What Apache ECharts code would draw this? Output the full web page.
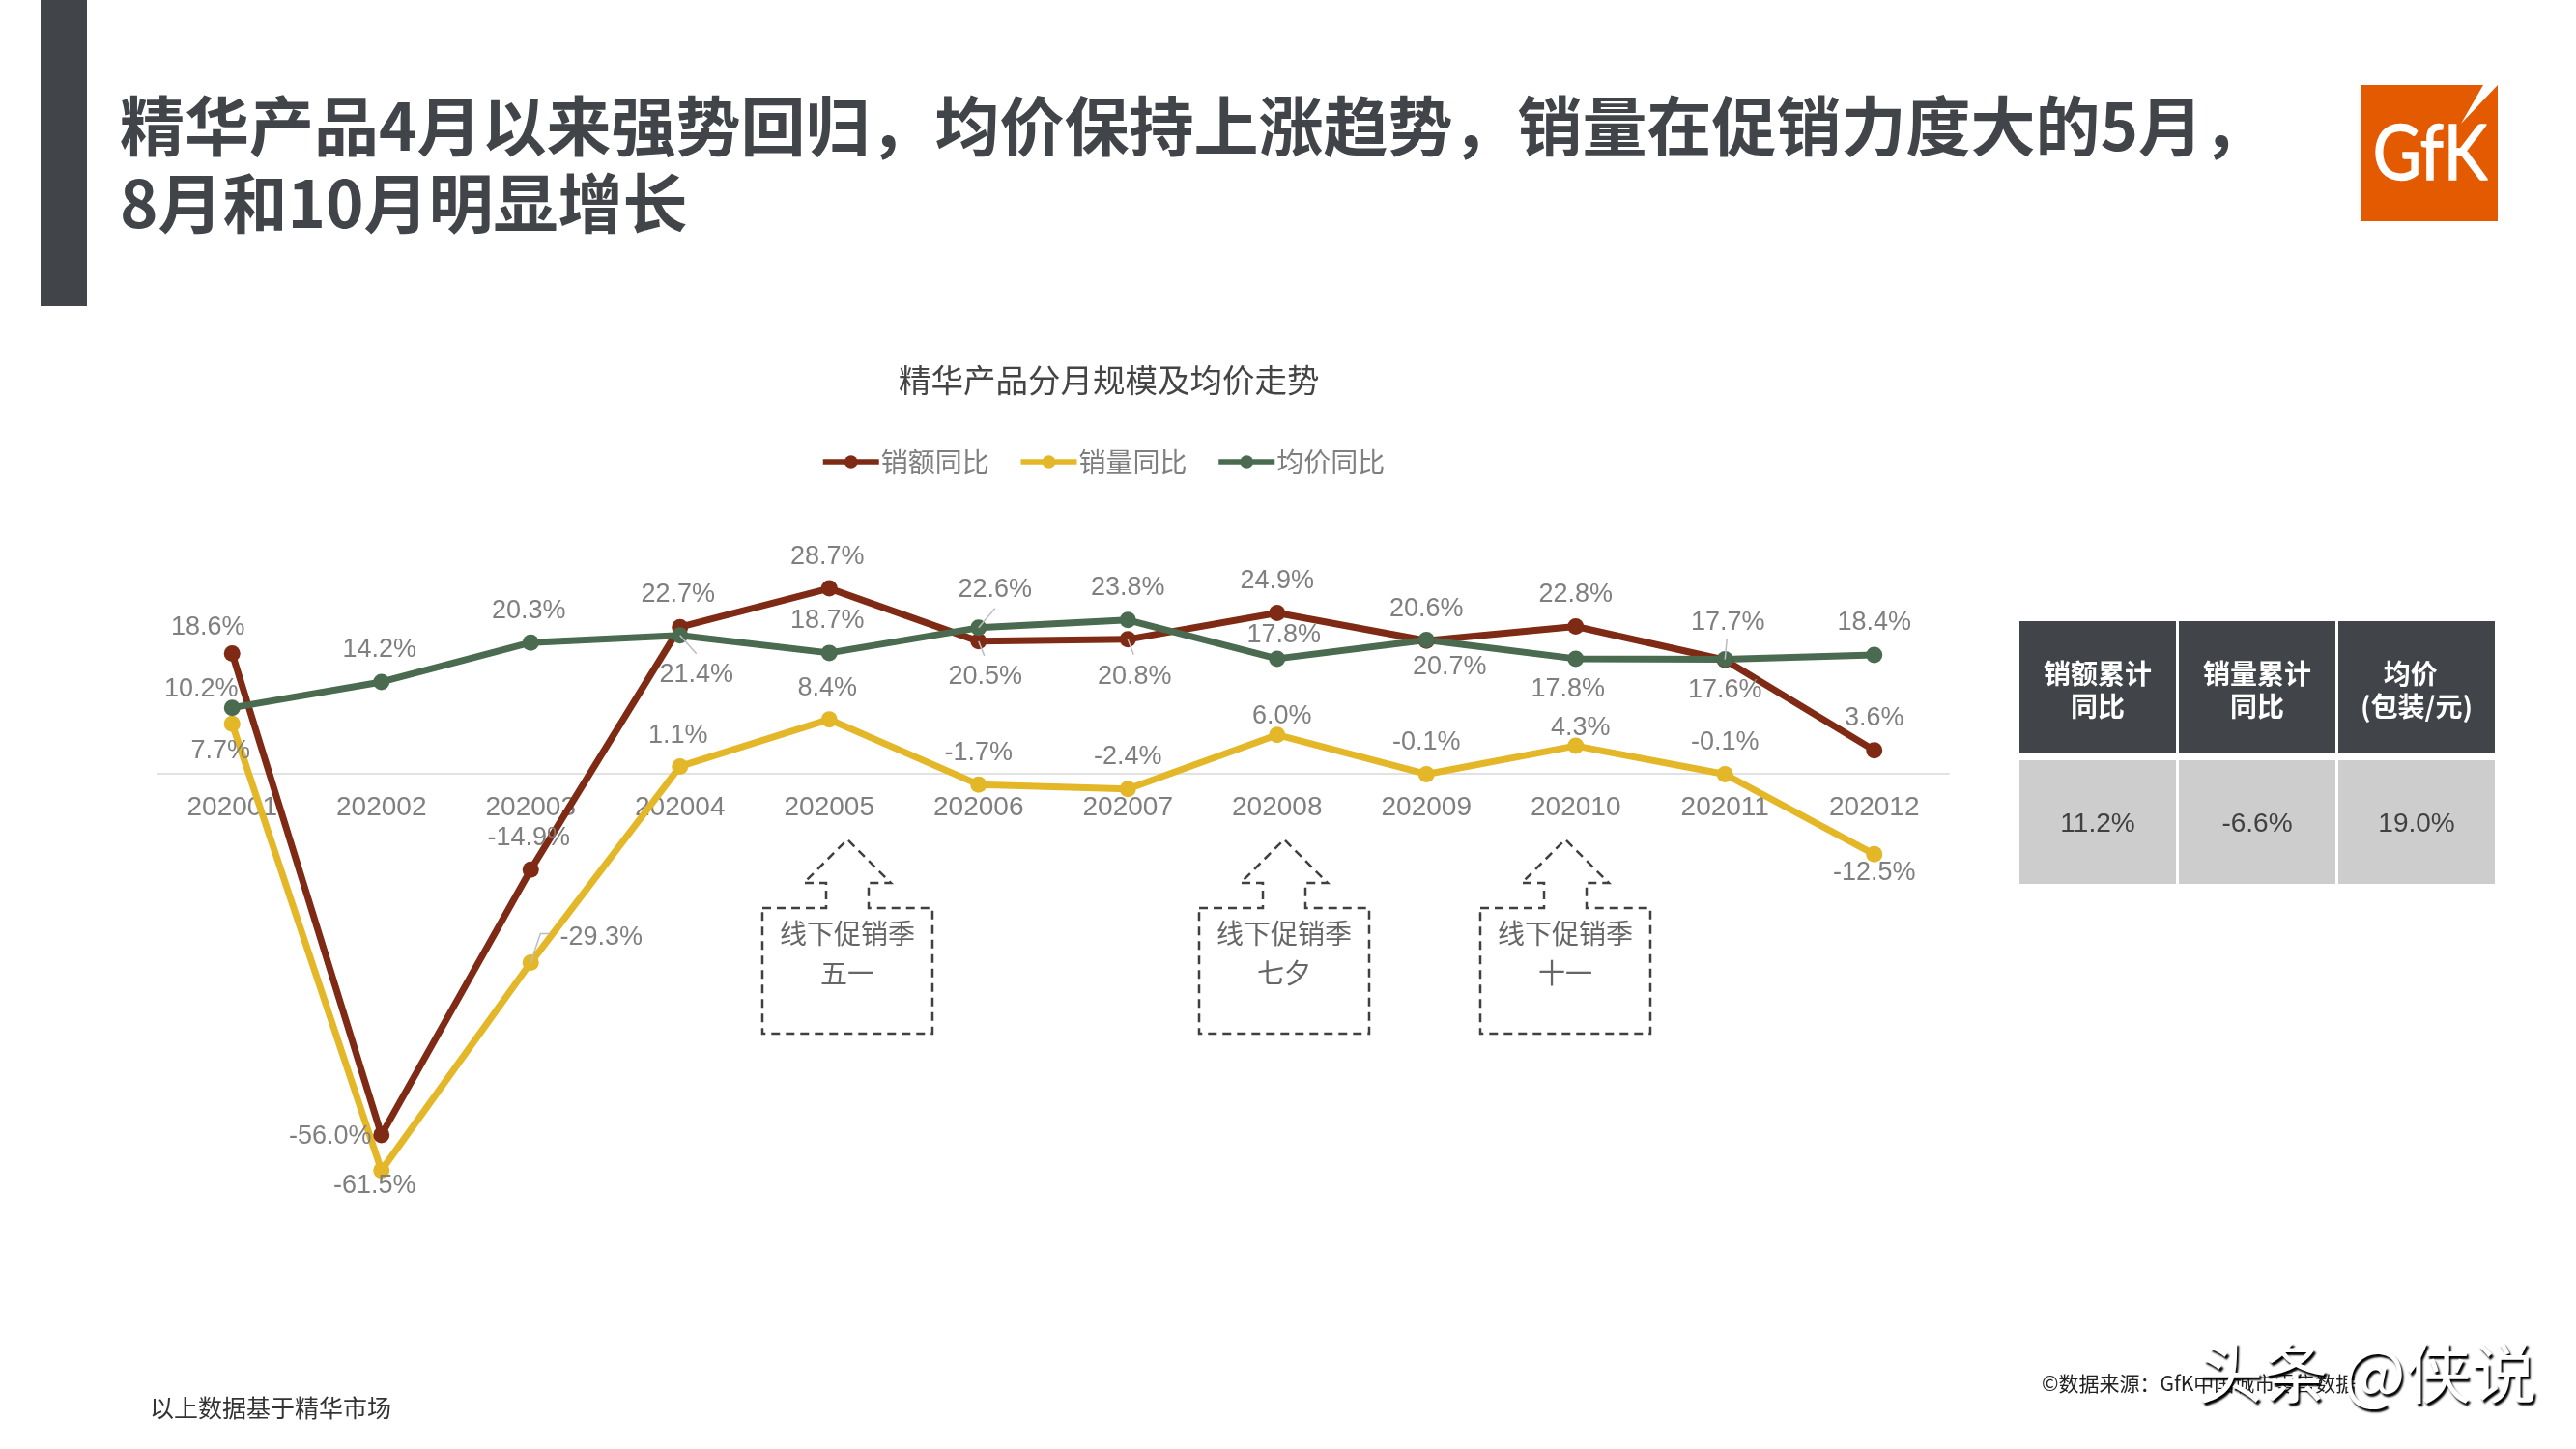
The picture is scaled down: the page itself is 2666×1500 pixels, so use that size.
<!DOCTYPE html>
<html>
<head>
<meta charset="utf-8">
<title>精华产品分月规模及均价走势</title>
<script src="https://cdn.jsdelivr.net/npm/echarts@6/dist/echarts.min.js"></script>
<style>
html, body { margin: 0; padding: 0; background: #fff; }
#main { width: 2666px; height: 1500px; }
</style>
</head>
<body>
<div id="main"></div>
<script>
//数据
var months = ['202001','202002','202003','202004','202005','202006','202007','202008','202009','202010','202011','202012'];
var salesYoy = [18.6,-56.0,-14.9,22.7,28.7,20.5,20.8,24.9,20.6,22.8,17.6,3.6];
var volumeYoy = [7.7,-61.5,-29.3,1.1,8.4,-1.7,-2.4,6.0,-0.1,4.3,-0.1,-12.5];
var priceYoy = [10.2,14.2,20.3,21.4,18.7,22.6,23.8,17.8,20.7,17.8,17.7,18.4];
var seriesNames = ['销额同比','销量同比','均价同比'];
var tableHead = ['销额累计\n同比','销量累计\n同比','均价  \n(包装/元)'];
var tableBody = ['11.2%','-6.6%','19.0%'];
var promoTexts = ['线下促销季\n五一','线下促销季\n七夕','线下促销季\n十一'];

//标签偏移，和原图手动摆放的位置对应
var salesOffset = [[-25,-27],[-53,2],[-2,-33],[-2,-34],[-2,-33],[7,37],[7,39],[0,-33],[0,-33],[0,-33],[0,31],[0,-33]];
var volumeOffset = [[-12,28],[-7,16],[73,-26],[-2,-32],[-2,-32],[0,-33],[0,-33],[5,-19],[0,-33],[5,-19],[0,-33],[0,19]];
var priceOffset = [[-32,-19],[-2,-33],[-2,-33],[17,41],[-2,-33],[17,-39],[0,-33],[7,-24],[24,28],[-8,32],[3,-38],[0,-33]];

//引导线：[系列序号, 月份序号, 折线各点相对数据点的偏移]
var leaders = [
	[2, 3, [[17,19]]],
	[2, 5, [[17,-20]]],
	[0, 5, [[6,15]]],
	[0, 6, [[6,16]]],
	[2, 10, [[2,-21]]],
	[1, 2, [[10,-30],[20,-30]]]
];
var seriesValues = [salesYoy, volumeYoy, priceYoy];

var FONT = '"Liberation Sans","Noto Sans CJK SC",sans-serif';
var CJK = '"Noto Sans CJK SC","Liberation Sans",sans-serif';
var DARK = '#414549';

function lineSeries(name, values, offsets, color) {
	return {
		name: name,
		type: 'line',
		data: values.map(function (v, i) {
			return { value: v, label: { offset: offsets[i] } };
		}),
		showSymbol: true,
		showAllSymbol: true,
		symbol: 'circle',
		symbolSize: 17,
		lineStyle: { color: color, width: 7 },
		itemStyle: { color: color },
		label: {
			show: true,
			position: 'inside',
			color: '#7f7f7f',
			fontSize: 27,
			fontFamily: FONT,
			formatter: function (p) { return p.value.toFixed(1) + '%'; }
		}
	};
}

var graphics = [];
//左上角色块
graphics.push({ type: 'rect', shape: { x: 42, y: 0, width: 48, height: 317 }, style: { fill: DARK } });
//logo
graphics.push({ type: 'rect', shape: { x: 2444, y: 88, width: 141, height: 141 }, style: { fill: '#E35A00' } });
graphics.push({ type: 'text', x: 2515, y: 160, scaleX: 0.86, style: { text: 'GfK', fill: '#fff', stroke: '#fff', lineWidth: 1.5, font: '80px Lato, sans-serif', textAlign: 'center', textVerticalAlign: 'middle' } });
graphics.push({ type: 'polygon', shape: { points: [[2570,88],[2585,88],[2547,128]] }, style: { fill: '#fff' } });

//表格
var colX = [2090,2255,2420];
tableHead.forEach(function (t, i) {
	graphics.push({ type: 'rect', shape: { x: colX[i], y: 643, width: 162, height: 137 }, style: { fill: DARK } });
	graphics.push({ type: 'text', x: colX[i] + 81, y: 714, style: { text: t, fill: '#fff', font: 'bold 28px ' + CJK, lineHeight: 34, textAlign: 'center', textVerticalAlign: 'middle' } });
});
tableBody.forEach(function (t, i) {
	graphics.push({ type: 'rect', shape: { x: colX[i], y: 787, width: 162, height: 128 }, style: { fill: '#CDCDCD' } });
	graphics.push({ type: 'text', x: colX[i] + 81, y: 853, style: { text: t, fill: '#404040', font: '28px ' + FONT, textAlign: 'center', textVerticalAlign: 'middle' } });
});

//促销季虚线框
var promoX = [877,1329,1620];
promoTexts.forEach(function (t, i) {
	var c = promoX[i];
	graphics.push({
		type: 'polygon',
		shape: { points: [[c-88,940],[c-22,940],[c-22,914],[c-45,914],[c,869],[c+45,914],[c+22,914],[c+22,940],[c+88,940],[c+88,1070],[c-88,1070]] },
		style: { fill: 'none', stroke: '#404040', lineWidth: 2.5, lineDash: [9,6] }
	});
	graphics.push({ type: 'text', x: c, y: 987, style: { text: t, fill: '#666', font: '28px ' + CJK, lineHeight: 41, textAlign: 'center', textVerticalAlign: 'middle' } });
});

//脚注和水印
graphics.push({ type: 'text', x: 155, y: 1457, style: { text: '以上数据基于精华市场', fill: '#333', font: '25px ' + CJK, textVerticalAlign: 'middle' } });
graphics.push({ type: 'text', x: 2113, y: 1432, style: { text: '©数据来源：GfK中国城市零售数据', fill: '#222', font: '21px ' + CJK, textVerticalAlign: 'middle' } });
graphics.push({ type: 'text', x: 2274, y: 1421, style: { text: '头条 @侠说', fill: '#fff', textShadowColor: '#000', textShadowBlur: 2, textShadowOffsetX: 2, textShadowOffsetY: 3, font: '68px ' + CJK, textVerticalAlign: 'middle' } });

var myChart = echarts.init(document.getElementById('main'));
var option = {
	animation: false,
	backgroundColor: '#fff',
	title: [
		{
			text: '精华产品4月以来强势回归，均价保持上涨趋势，销量在促销力度大的5月，\n8月和10月明显增长',
			left: 119, top: 86,
			textStyle: { color: DARK, fontSize: 67, fontWeight: 'bold', fontFamily: CJK, lineHeight: 80 }
		},
		{
			text: '精华产品分月规模及均价走势',
			left: 925, top: 372,
			textStyle: { color: '#444', fontSize: 33.5, fontWeight: 'normal', fontFamily: CJK }
		}
	],
	legend: {
		left: 844, top: 459,
		itemWidth: 58, itemHeight: 17, itemGap: 30,
		data: seriesNames,
		lineStyle: { width: 5.5 },
		textStyle: { color: '#7f7f7f', fontSize: 28, fontFamily: CJK, padding: [0,0,0,-3] }
	},
	grid: { left: 163, top: 567, width: 1854, height: 701.4, containLabel: false },
	xAxis: {
		type: 'category',
		data: months,
		boundaryGap: true,
		axisLine: { lineStyle: { color: '#e2e2e2', width: 2 } },
		axisTick: { show: false },
		//v6里标签留在网格底部，用负 margin 拉回零线下方
		axisLabel: { color: '#7f7f7f', fontSize: 28, fontFamily: FONT, margin: -446, interval: 0 }
	},
	yAxis: { type: 'value', min: -70, max: 35, show: false, splitLine: { show: false } },
	series: [
		lineSeries(seriesNames[0], salesYoy, salesOffset, '#7F2A14'),
		lineSeries(seriesNames[1], volumeYoy, volumeOffset, '#E3B727'),
		lineSeries(seriesNames[2], priceYoy, priceOffset, '#4A6B50')
	],
	graphic: graphics
};
myChart.setOption(option);

//引导线要用转换后的像素位置
leaders.forEach(function (l) {
	var pt = myChart.convertToPixel({ seriesIndex: l[0] }, [l[1], seriesValues[l[0]][l[1]]]);
	var points = [pt].concat(l[2].map(function (d) { return [pt[0] + d[0], pt[1] + d[1]]; }));
	graphics.push({ type: 'polyline', z: 20, shape: { points: points }, style: { fill: 'none', stroke: '#bdbdbd', lineWidth: 1.5 } });
});
myChart.setOption({ graphic: graphics });
</script>
</body>
</html>
